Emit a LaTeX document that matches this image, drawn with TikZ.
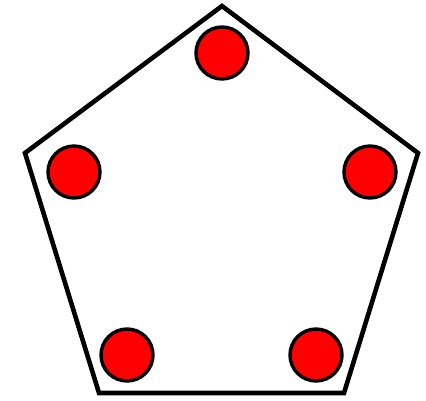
\documentclass[tikz,border=0pt]{standalone}
\begin{document}
\begin{tikzpicture}[x=1pt,y=-1pt,
  edge/.style={draw=black,line width=4.6pt,line join=miter},
  dot/.style={circle,draw=black,fill=red,line width=3.4pt,minimum size=52pt,inner sep=0pt}]
\useasboundingbox (0,0) rectangle (426,400);
\coordinate (p1) at (222,6);
\coordinate (p2) at (418,153);
\coordinate (p3) at (344,393);
\coordinate (p4) at (99,393);
\coordinate (p5) at (25,153);
\draw[edge] (p1) -- (p2) -- (p3) -- (p4) -- (p5) -- cycle;
\node[dot] (c1) at (222,53) {};
\node[dot] (c2) at (370,172) {};
\node[dot] (c3) at (316,355) {};
\node[dot] (c4) at (127,355) {};
\node[dot] (c5) at (74,172) {};
\end{tikzpicture}
\end{document}
